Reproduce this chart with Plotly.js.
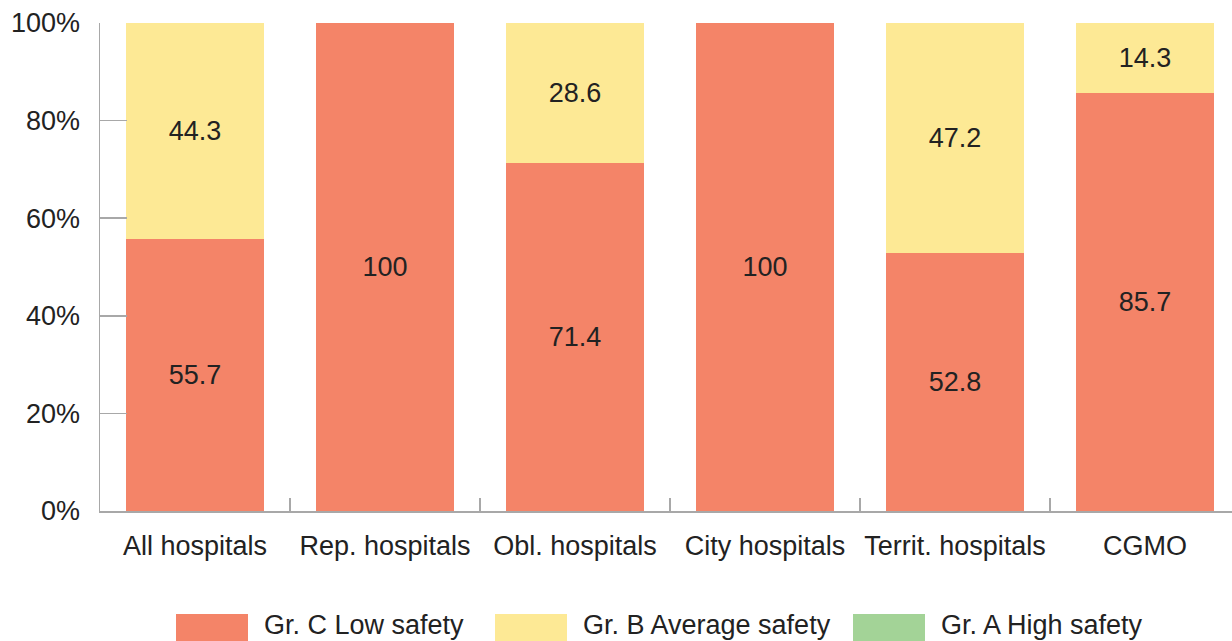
<!DOCTYPE html>
<html>
<head>
<meta charset="utf-8">
<script src="https://cdn.plot.ly/plotly-3.0.1.min.js"></script>
<style>html,body{margin:0;padding:0;background:#fff;}#chart{width:1232px;height:641px;}</style>
</head>
<body>
<div id="chart"></div>
<script>
const categories = ["All hospitals", "Rep. hospitals", "Obl. hospitals", "City hospitals", "Territ. hospitals", "CGMO"];
const seriesNames = ["Gr. C Low safety", "Gr. B Average safety", "Gr. A High safety"];
const lowSafety = [55.7, 100, 71.4, 100, 52.8, 85.7];
const averageSafety = [44.3, 0, 28.6, 0, 47.2, 14.3];
const highSafety = [0, 0, 0, 0, 0, 0];
const yTickValues = [0, 20, 40, 60, 80, 100];
const colors = ["#F48468", "#FDE995", "#A3D397"];

const FONT = "Liberation Sans, Arial, Helvetica, sans-serif";
const W = 1232, H = 641;
const M = {l: 100, r: 0, t: 23, b: 130};
const PW = W - M.l - M.r, PH = H - M.t - M.b;

const seriesValues = [lowSafety, averageSafety, highSafety];
const traces = seriesValues.map((vals, i) => ({
  type: "bar",
  name: seriesNames[i],
  x: categories,
  y: vals,
  marker: {color: colors[i], line: {width: 0}},
  text: vals.map(v => v > 0 ? String(v) : ""),
  textposition: "inside",
  insidetextanchor: "middle",
  textangle: 0,
  constraintext: "none",
  textfont: {family: FONT, size: 27, color: "#222222"},
  hoverinfo: "x+y+name",
  showlegend: false
}));

// custom legend (wide swatches) below the plot
const legendSwatchLeft = [176, 495, 853];
const shapes = [], annotations = [];
const px2x = p => (p - M.l) / PW;
const px2y = p => (H - M.b - p) / PH;
seriesNames.forEach((name, i) => {
  const x0 = legendSwatchLeft[i];
  shapes.push({type: "rect", xref: "paper", yref: "paper",
    x0: px2x(x0), x1: px2x(x0 + 72), y0: px2y(614), y1: px2y(645),
    fillcolor: colors[i], line: {width: 0}});
  annotations.push({xref: "paper", yref: "paper", x: px2x(x0 + 86), y: px2y(625),
    xanchor: "left", yanchor: "middle", showarrow: false, text: name,
    font: {family: FONT, size: 27, color: "#222222"}});
});

const layout = {
  width: W, height: H,
  margin: M,
  paper_bgcolor: "#ffffff", plot_bgcolor: "#ffffff",
  barmode: "stack",
  bargap: 0.274,
  font: {family: FONT, size: 27, color: "#222222"},
  xaxis: {
    type: "category",
    range: [-0.5, 5.458],
    showline: true, linecolor: "#A8A8A8", linewidth: 1.5,
    ticks: "inside", tickson: "boundaries", ticklen: 13, tickcolor: "#A8A8A8", tickwidth: 1.5,
    showgrid: false, zeroline: false,
    tickangle: 0,
    tickfont: {family: FONT, size: 27, color: "#222222"},
    ticklabelstandoff: 10
  },
  yaxis: {
    range: [0, 100],
    tickvals: yTickValues,
    ticktext: yTickValues.map(v => v + "%"),
    showline: true, linecolor: "#A8A8A8", linewidth: 1.5,
    ticks: "inside", ticklen: 27, tickcolor: "#A8A8A8", tickwidth: 1.5,
    showgrid: false, zeroline: false,
    tickfont: {family: FONT, size: 27, color: "#222222"},
    ticklabelstandoff: 13
  },
  shapes: shapes,
  annotations: annotations,
  showlegend: false
};

Plotly.newPlot("chart", traces, layout, {displayModeBar: false, staticPlot: true});
</script>
</body>
</html>
